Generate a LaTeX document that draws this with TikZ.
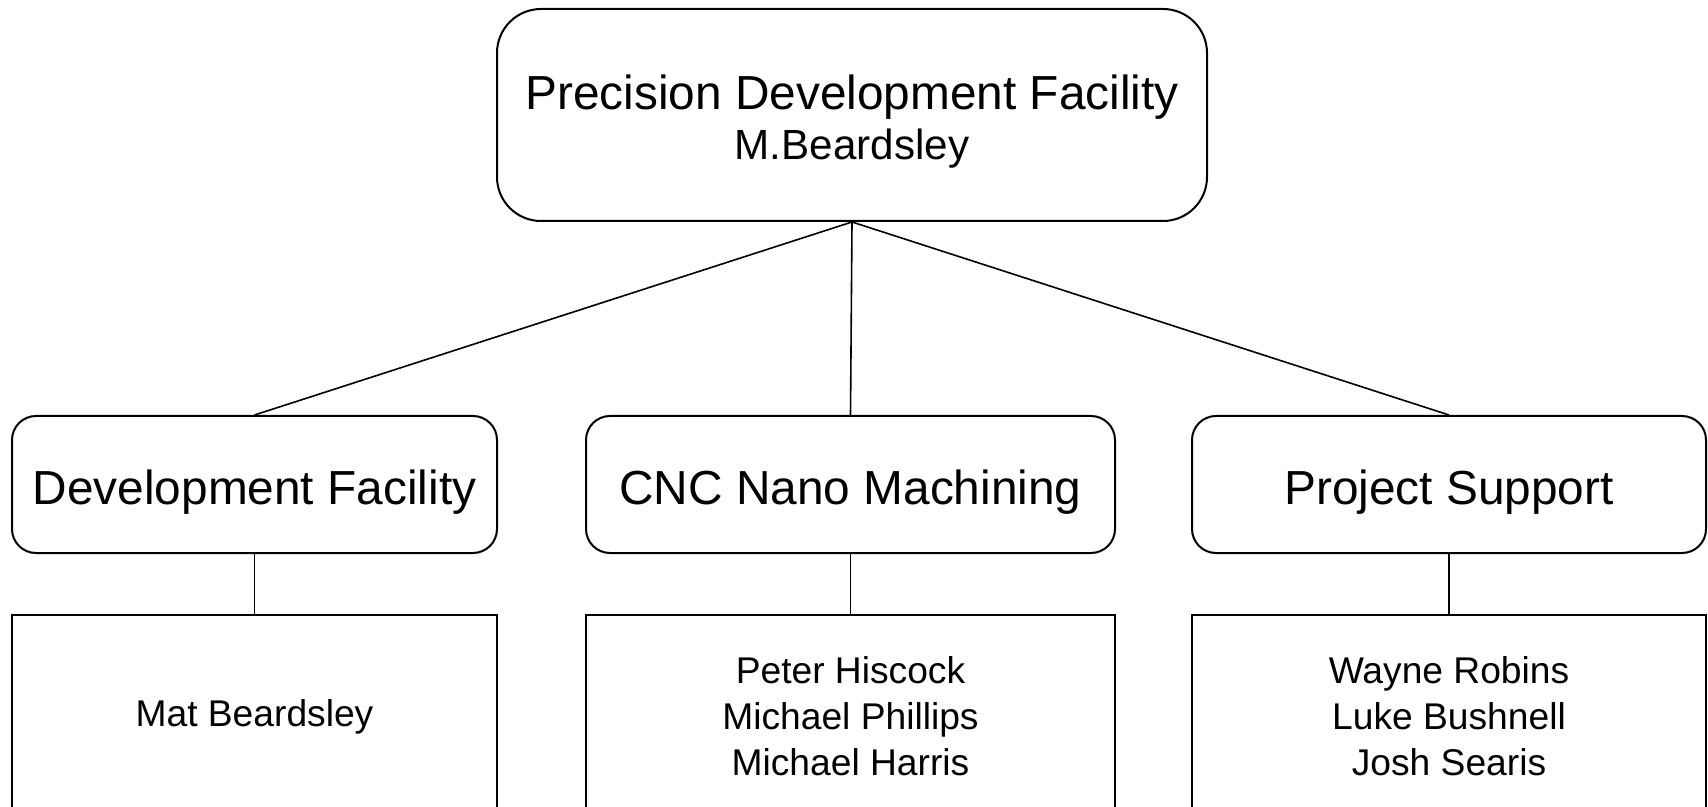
\documentclass[tikz,border=0pt]{standalone}
\usepackage{fontspec}
\setmainfont{Liberation Sans}
\usetikzlibrary{positioning}

\tikzset{
  head/.style={draw, rounded corners=22pt, line width=1pt, minimum width=355pt,
    minimum height=106pt, align=center, font=\fontsize{23.9}{26}\selectfont},
  unit/.style={draw, rounded corners=12pt, line width=1pt, minimum height=68.5pt,
    text height=22pt, text depth=2pt, font=\fontsize{23.9}{28}\selectfont},
  staff/.style={draw, line width=1pt, minimum height=101.5pt, align=center,
    font=\fontsize{18.6}{23}\selectfont},
  link/.style={line width=0.8pt}
}

\begin{document}
\begin{tikzpicture}[x=0.5pt,y=-0.5pt]
  \useasboundingbox (0,0) rectangle (1708,807);
  \clip (0,0) rectangle (1708,807);

  % top of the tree
  \node[head] (pdf) at (852,115) {\rule{0pt}{24pt}Precision Development Facility\\[-1pt]
    {\fontsize{21.1}{26}\selectfont M.Beardsley}};

  % sections
  \node[unit, minimum width=242.5pt] (dev) at (254.5,484.5) {Development Facility};
  \node[unit, minimum width=264.5pt] (cnc) at (850.5,484.5) {CNC Nano Machining};
  \node[unit, minimum width=257pt] (ps) at (1449,484.5) {Project Support};

  % people
  \node[staff, minimum width=242.5pt, below=30pt of dev] (devstaff) {Mat Beardsley};
  \node[staff, minimum width=264.5pt, below=30pt of cnc] (cncstaff)
    {Peter Hiscock\\Michael Phillips\\Michael Harris};
  \node[staff, minimum width=257pt, below=30pt of ps] (psstaff)
    {Wayne Robins\\Luke Bushnell\\Josh Searis};

  \draw[link] (pdf.south) -- (dev.north);
  \draw[link] (pdf.south) -- (cnc.north);
  \draw[link] (pdf.south) -- (ps.north);

  \draw[link] (dev) -- (devstaff);
  \draw[link] (cnc) -- (cncstaff);
  \draw[link] (ps) -- (psstaff);

\end{tikzpicture}
\end{document}
